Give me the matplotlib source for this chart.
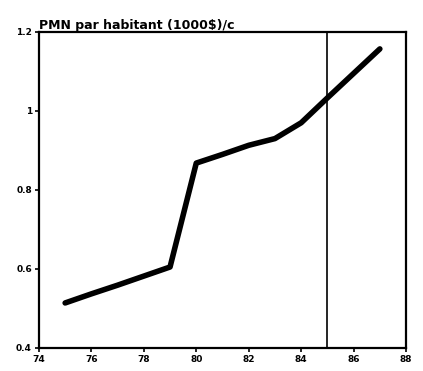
import numpy as np
import matplotlib.pyplot as plt

years = [75, 76, 77, 78, 79, 80, 81, 82, 83, 84, 85, 86, 87]
pmn = [0.514, 0.537, 0.559, 0.582, 0.605, 0.868, 0.89, 0.913, 0.93, 0.97, 1.033, 1.095, 1.157]
xticks = [74, 76, 78, 80, 82, 84, 86, 88]
yticks = [0.4, 0.6, 0.8, 1.0, 1.2]
ylabels = ["0.4", "0.6", "0.8", "1", "1.2"]
split_year = 85

fig = plt.figure(figsize=(4.23, 3.71), dpi=100)
ax = fig.add_axes([0.092, 0.062, 0.868, 0.852])

ax.plot(years, pmn, color="black", linewidth=4, solid_capstyle="round", solid_joinstyle="round")
ax.axvline(split_year, color="black", linewidth=1.2)

ax.set_xlim(74, 88)
ax.set_ylim(0.4, 1.2)
ax.set_xticks(xticks)
ax.set_yticks(yticks)
ax.set_yticklabels(ylabels)
ax.tick_params(axis="both", direction="out", length=3, width=1.2, labelsize=6.5, pad=2)
for lbl in ax.get_xticklabels() + ax.get_yticklabels():
    lbl.set_fontweight("bold")
for s in ax.spines.values():
    s.set_linewidth(1.6)

ax.set_title("PMN par habitant (1000$)/c", loc="left", fontsize=9, fontweight="bold", pad=2)

plt.savefig("out.png", dpi=100)
